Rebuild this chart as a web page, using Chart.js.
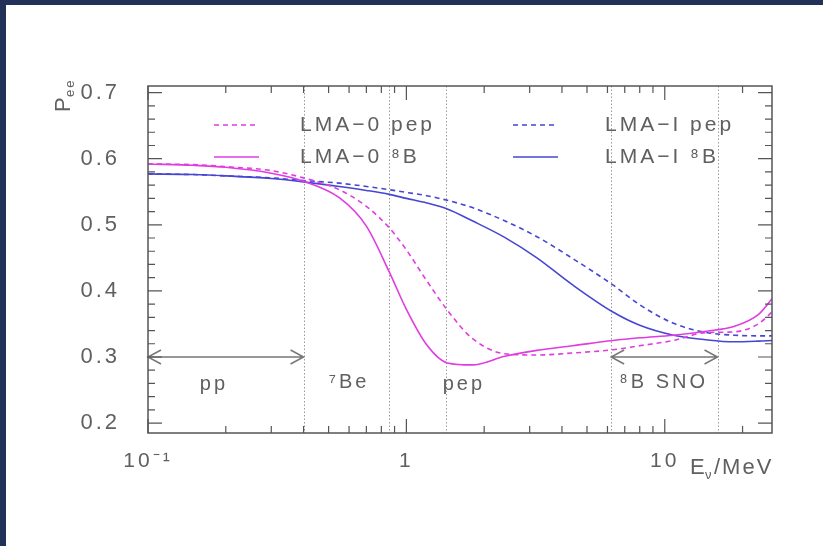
<!DOCTYPE html>
<html>
<head>
<meta charset="utf-8">
<script src="https://cdn.jsdelivr.net/npm/chart.js@4.4.1/dist/chart.umd.min.js"></script>
<style>
  html, body { margin: 0; padding: 0; background: #fff; }
  #wrap { position: relative; width: 823px; height: 546px; overflow: hidden; }
  .bar { position: absolute; background: #213158; }
</style>
</head>
<body>
<div id="wrap">
  <canvas id="grafico" width="823" height="546"></canvas>
  <div class="bar" style="left:0;top:0;width:823px;height:5px"></div>
  <div class="bar" style="left:0;top:0;width:6px;height:546px"></div>
</div>
<script>
// energia del neutrino (MeV)
const energias = [0.1, 0.15, 0.2, 0.3, 0.4, 0.55, 0.7, 0.86, 1.0, 1.2, 1.44, 1.8, 2.4, 3.2, 4.4, 6.3, 8, 10.8, 14.5, 18.5, 23, 26];

// probabilidad de supervivencia Pee
const lma0_pep = [0.592, 0.591, 0.588, 0.582, 0.571, 0.553, 0.528, 0.495, 0.462, 0.415, 0.371, 0.328, 0.305, 0.303, 0.306, 0.311, 0.317, 0.325, 0.337, 0.338, 0.350, 0.368];
const lma0_8b  = [0.592, 0.590, 0.587, 0.578, 0.566, 0.541, 0.498, 0.428, 0.372, 0.318, 0.291, 0.288, 0.301, 0.310, 0.317, 0.325, 0.329, 0.333, 0.339, 0.346, 0.364, 0.388];
const lmaI_pep = [0.577, 0.576, 0.574, 0.571, 0.567, 0.563, 0.558, 0.553, 0.549, 0.544, 0.537, 0.526, 0.506, 0.482, 0.449, 0.409, 0.379, 0.351, 0.337, 0.333, 0.332, 0.332];
const lmaI_8b  = [0.577, 0.576, 0.574, 0.570, 0.565, 0.558, 0.552, 0.546, 0.540, 0.533, 0.524, 0.506, 0.481, 0.450, 0.409, 0.368, 0.348, 0.333, 0.326, 0.323, 0.324, 0.325];

// lineas verticales (umbrales) y rangos con flecha
const umbrales = [0.4, 0.86, 1.42, 6.2, 16];
const rangos = [[0.1, 0.4], [6.2, 16]];
const rangoY = 0.3;
const etiquetas = [
  { texto: 'pp', x: 0.18, y: 0.258 },
  { texto: '⁷Be', x: 0.6, y: 0.262 },
  { texto: 'pep', x: 1.67, y: 0.258 },
  { texto: '⁸B SNO', x: 9.9, y: 0.262 }
];

const xTicks = [0.1, 1, 10];
const yTicks = [0.2, 0.3, 0.4, 0.5, 0.6, 0.7];

const rosa = '#e03ce0';
const azul = '#4646d2';
const gris = '#606060';
const fuente = '"Liberation Sans", Arial, sans-serif';

function serie(vals) {
  return vals.map((v, i) => ({ x: energias[i], y: v }));
}

const data = {
  datasets: [
    { label: 'LMA−0 pep', data: serie(lma0_pep), borderColor: rosa, borderDash: [5, 4], borderWidth: 1.6 },
    { label: 'LMA−0 ⁸B', data: serie(lma0_8b), borderColor: rosa, borderWidth: 1.6 },
    { label: 'LMA−I pep', data: serie(lmaI_pep), borderColor: azul, borderDash: [5, 4], borderWidth: 1.6 },
    { label: 'LMA−I ⁸B', data: serie(lmaI_8b), borderColor: azul, borderWidth: 1.6 }
  ]
};

function flecha(ctx, x0, x1, yy) {
  ctx.beginPath();
  ctx.moveTo(x0, yy); ctx.lineTo(x1, yy);
  ctx.moveTo(x0 + 13, yy - 7); ctx.lineTo(x0, yy); ctx.lineTo(x0 + 13, yy + 7);
  ctx.moveTo(x1 - 13, yy - 7); ctx.lineTo(x1, yy); ctx.lineTo(x1 - 13, yy + 7);
  ctx.stroke();
}

const decoracion = {
  id: 'decoracion',
  beforeDraw(chart) {
    // texto mas espaciado, como en la figura original
    chart.ctx.letterSpacing = '3px';
  },
  beforeDatasetsDraw(chart) {
    const { ctx, chartArea: a, scales: { x, y } } = chart;
    ctx.save();
    // lineas punteadas verticales
    ctx.strokeStyle = '#999';
    ctx.lineWidth = 1;
    ctx.setLineDash([1.5, 2]);
    umbrales.forEach(e => {
      const px = Math.round(x.getPixelForValue(e)) + 0.5;
      ctx.beginPath(); ctx.moveTo(px, a.top); ctx.lineTo(px, a.bottom); ctx.stroke();
    });
    ctx.setLineDash([]);
    // flechas
    ctx.strokeStyle = '#777';
    ctx.lineWidth = 1.5;
    rangos.forEach(r => flecha(ctx, x.getPixelForValue(r[0]), x.getPixelForValue(r[1]), y.getPixelForValue(rangoY)));
    // textos
    ctx.fillStyle = gris;
    ctx.font = '20px ' + fuente;
    ctx.letterSpacing = '3px';
    ctx.textAlign = 'center';
    ctx.textBaseline = 'middle';
    etiquetas.forEach(t => ctx.fillText(t.texto, x.getPixelForValue(t.x), y.getPixelForValue(t.y)));
    ctx.restore();
  },
  afterDraw(chart) {
    const { ctx, chartArea: a, scales: { x, y } } = chart;
    ctx.save();
    ctx.strokeStyle = '#555';
    ctx.lineWidth = 1.5;
    ctx.strokeRect(a.left, a.top, a.right - a.left, a.bottom - a.top);
    ctx.lineWidth = 1.2;
    ctx.beginPath();
    // ticks eje y (hacia dentro)
    for (let k = 0; k <= 30; k++) {
      const v = 0.18 + k * 0.02;
      if (v < y.min || v > y.max) continue;
      const py = y.getPixelForValue(v);
      const largo = (Math.round(v * 100) % 10 === 0) ? 14 : 7;
      ctx.moveTo(a.left, py); ctx.lineTo(a.left + largo, py);
      ctx.moveTo(a.right, py); ctx.lineTo(a.right - largo, py);
    }
    // ticks eje x (log)
    [0.1, 1, 10].forEach(d => {
      for (let m = 1; m <= 9; m++) {
        const v = d * m;
        if (v < x.min || v > x.max) continue;
        const px = x.getPixelForValue(v);
        const largo = m === 1 ? 14 : 7;
        ctx.moveTo(px, a.bottom); ctx.lineTo(px, a.bottom - largo);
        ctx.moveTo(px, a.top); ctx.lineTo(px, a.top + largo);
      }
    });
    ctx.stroke();

    // leyenda
    const filas = [[0, 2], [1, 3]];
    const muestraX = [214, 513];
    const textoX = [300, 605];
    const filaY = [125, 157];
    ctx.font = '21px ' + fuente;
    ctx.letterSpacing = '3px';
    ctx.textBaseline = 'middle';
    ctx.textAlign = 'left';
    filas.forEach((f, r) => f.forEach((di, c) => {
      const ds = chart.data.datasets[di];
      ctx.strokeStyle = ds.borderColor;
      ctx.lineWidth = 1.6;
      ctx.setLineDash(ds.borderDash || []);
      ctx.beginPath(); ctx.moveTo(muestraX[c], filaY[r]); ctx.lineTo(muestraX[c] + 45, filaY[r]); ctx.stroke();
      ctx.setLineDash([]);
      ctx.fillStyle = gris;
      ctx.fillText(ds.label, textoX[c], filaY[r]);
    }));

    // titulos de ejes
    ctx.fillStyle = gris;
    ctx.letterSpacing = '2px';
    ctx.save();
    ctx.translate(64, 112);
    ctx.rotate(-Math.PI / 2);
    ctx.font = '22px ' + fuente;
    ctx.textAlign = 'left';
    ctx.fillText('P', 0, 0);
    ctx.font = '13px ' + fuente;
    ctx.fillText('ee', 15, 6);
    ctx.restore();

    ctx.font = '22px ' + fuente;
    ctx.textAlign = 'left';
    ctx.fillText('E', 690, 468);
    ctx.font = '13px ' + fuente;
    ctx.fillText('ν', 705, 475);
    ctx.font = '22px ' + fuente;
    ctx.fillText('/MeV', 714, 468);
    ctx.restore();
  }
};

const ctx = document.getElementById('grafico').getContext('2d');

const options = {
  responsive: false,
  animation: false,
  layout: { padding: { top: 86, right: 51, left: 0, bottom: 0 } },
  elements: { point: { radius: 0 }, line: { cubicInterpolationMode: 'monotone' } },
  plugins: { legend: { display: false }, tooltip: { enabled: false } },
  scales: {
    x: {
      type: 'logarithmic',
      min: 0.1,
      max: 26,
      grid: { display: false },
      border: { display: false },
      afterBuildTicks: s => { s.ticks = xTicks.map(v => ({ value: v })); },
      afterFit: s => { s.height = 113; },
      ticks: {
        color: gris,
        font: { size: 21, family: fuente },
        padding: 8,
        maxRotation: 0,
        callback: v => (v === 0.1 ? '10⁻¹' : String(v))
      }
    },
    y: {
      min: 0.185,
      max: 0.71,
      grid: { display: false },
      border: { display: false },
      afterBuildTicks: s => { s.ticks = yTicks.map(v => ({ value: v })); },
      afterFit: s => { s.width = 148; },
      ticks: {
        color: gris,
        font: { size: 22, family: fuente },
        padding: 20,
        callback: v => v.toFixed(1)
      }
    }
  }
};

const grafico = new Chart(ctx, { type: 'line', data: data, options: options, plugins: [decoracion] });
</script>
</body>
</html>
